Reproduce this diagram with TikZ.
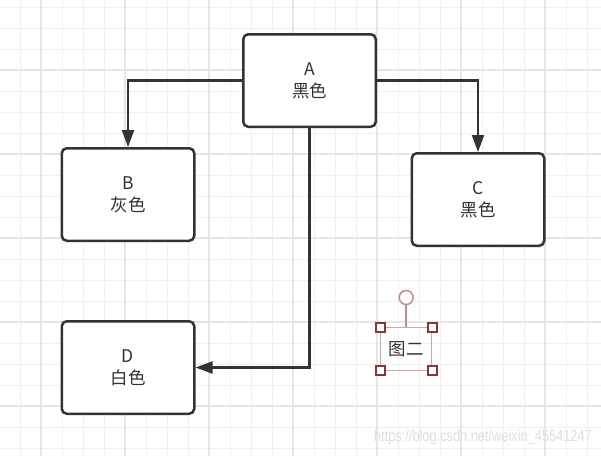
\documentclass[tikz,border=0pt]{standalone}
\usepackage{fontspec}
\setmainfont{Noto Sans CJK SC}
\newfontfamily\wmfont{Liberation Sans}
\usetikzlibrary{arrows.meta}
\definecolor{ink}{HTML}{333333}
\definecolor{gridl}{HTML}{F0F0F0}
\definecolor{gridd}{HTML}{E6E6E6}
\definecolor{selline}{HTML}{D2A6A6}
\definecolor{selhandle}{HTML}{8B3535}
\definecolor{selknob}{HTML}{C08C8C}
\definecolor{wm}{HTML}{DEDEDE}
\tikzset{
  box/.style={draw=ink, fill=white, line width=2.5pt, rounded corners=5pt,
    minimum width=132.5pt, minimum height=92.5pt, inner sep=0pt,
    align=center, text=ink, font=\fontsize{17.5}{22}\selectfont},
  conn/.style={draw=ink, line width=2.2pt, -{Triangle[length=17pt,width=12pt]}},
  handle/.style={draw=selhandle, fill=white, line width=1.8pt, minimum size=9pt, inner sep=0pt},
}
\begin{document}
\begin{tikzpicture}[x=1pt,y=-1pt]
\useasboundingbox (0,0) rectangle (601,456);
\fill[white] (0,0) rectangle (601,456);
% grid
\foreach \i in {0,...,29} {\draw[gridl, line width=1pt] ({-1+21*\i},0) -- ({-1+21*\i},456);}
\foreach \j in {0,...,21} {\draw[gridl, line width=1pt] (0,{7+21*\j}) -- (601,{7+21*\j});}
\foreach \i in {0,...,6} {\draw[gridd, line width=1.1pt] ({41+84*\i},0) -- ({41+84*\i},456);}
\foreach \j in {0,...,4} {\draw[gridd, line width=1.1pt] (0,{70+84*\j}) -- (601,{70+84*\j});}
% watermark
\node[anchor=east, text=wm, font=\wmfont\fontsize{16}{18}\selectfont, xscale=0.8, inner sep=0pt] (wm) at (592,437) {https://blog.csdn.net/weixin\_45541247};
% boxes
\node[box] (A) at (309.5,80.5) {A\\黑色};
\node[box] (B) at (128,194.5) {B\\灰色};
\node[box] (C) at (478,199.5) {C\\黑色};
\node[box] (D) at (128,367.5) {D\\白色};
% connectors
\draw[conn] (A.west) -| (B.north);
\draw[conn] (A.east) -| (C.north);
\draw[conn] (A.south) |- (D.east);
% selected text
\node[draw=selline, line width=1.2pt, minimum width=51pt, minimum height=42.5pt, inner sep=0pt,
  text=ink, font=\fontsize{17.5}{22}\selectfont] (T) at (406.2,349) {图二};
\node[circle, draw=selknob, fill=white, line width=1.5pt, minimum size=14pt, inner sep=0pt] (K) at (406.2,297.5) {};
\draw[selknob, line width=1.5pt] (K.south) -- (T.north);
\node[handle] (h1) at (T.north west) {};
\node[handle] (h2) at (T.north east) {};
\node[handle] (h3) at (T.south west) {};
\node[handle] (h4) at (T.south east) {};
\end{tikzpicture}
\end{document}
